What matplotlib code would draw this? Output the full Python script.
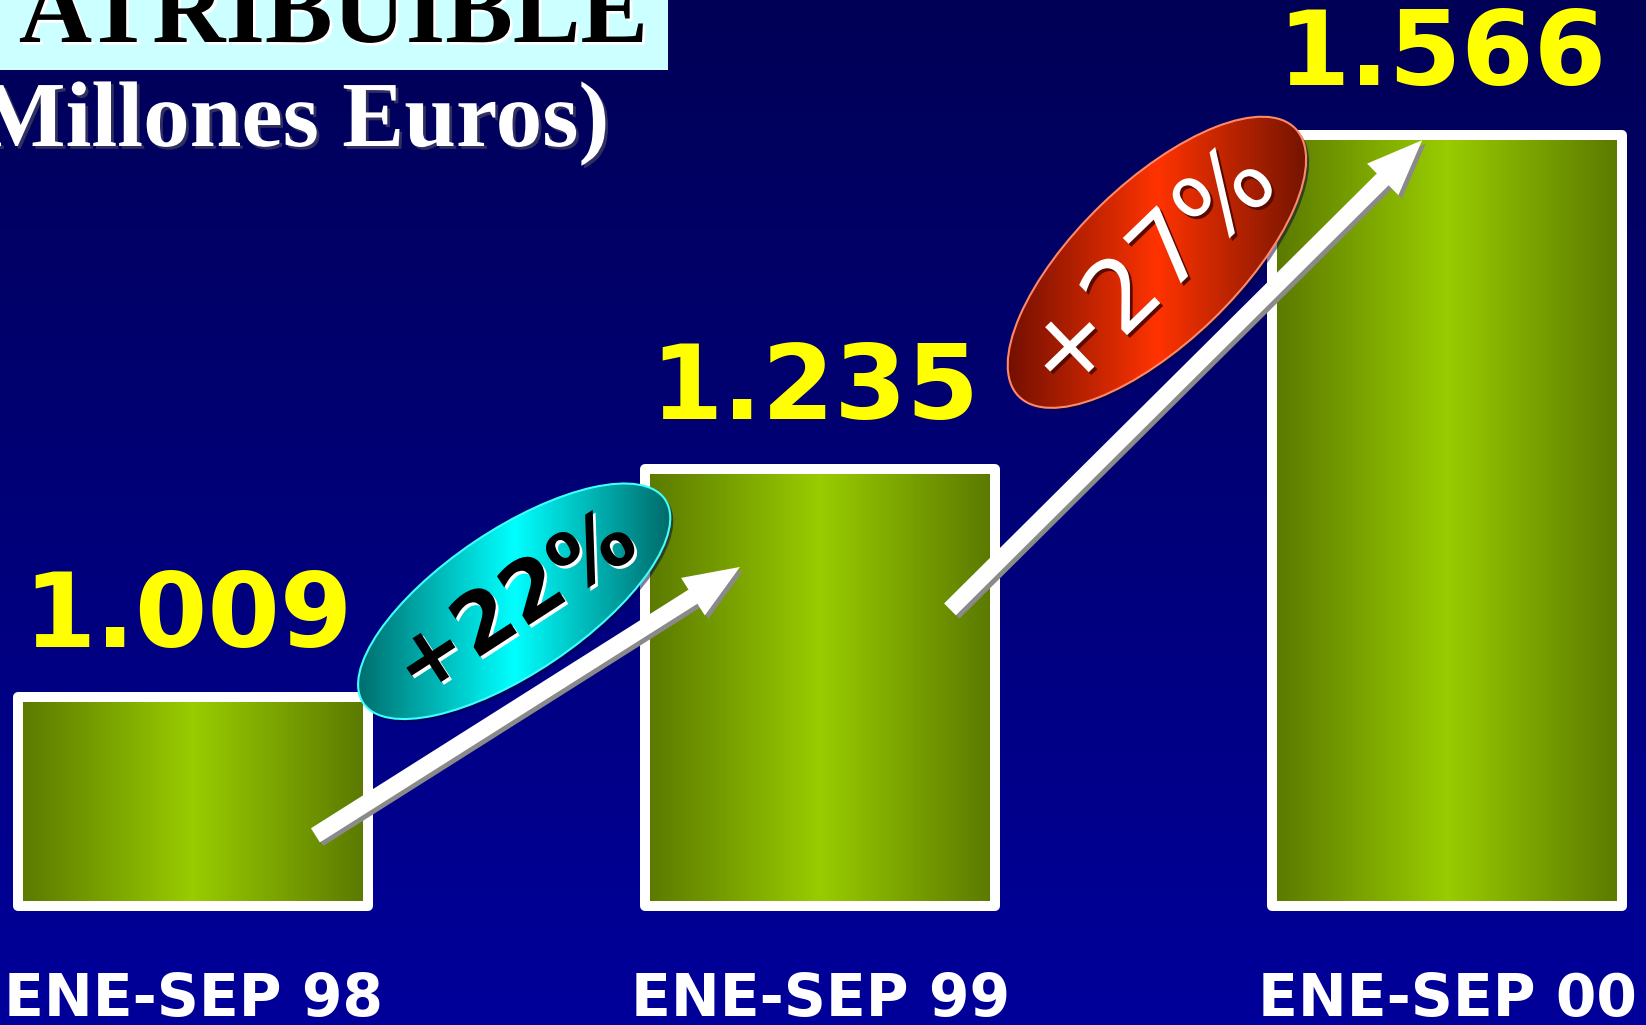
import numpy as np
import matplotlib
matplotlib.use('Agg')
import matplotlib.pyplot as plt
from matplotlib.patches import Ellipse, Rectangle, FancyArrowPatch
from matplotlib.colors import LinearSegmentedColormap
import matplotlib.transforms as mtransforms
import matplotlib.patheffects as pe

# ---------------- data ----------------
categories = ['ENE-SEP 98', 'ENE-SEP 99', 'ENE-SEP 00']
values = [1009, 1235, 1566]
value_labels = ['1.009', '1.235', '1.566']
growth_labels = ['+22%', '+27%']
title_text = 'ATRIBUIBLE'
subtitle_text = '(Millones Euros)'

# ---------------- layout ----------------
BASE = 802
W, H = 1646, 1025
XLIM = (-0.308, 2.317)
YLIM = (684, 1700)

fig = plt.figure(figsize=(W / 100, H / 100), dpi=100)
ax = fig.add_axes([0, 0, 1, 1])
ax.set_axis_off()
ax.set_xlim(XLIM)
ax.set_ylim(YLIM)

# background gradient
bg = LinearSegmentedColormap.from_list('bg', ['#00009a', '#000056'])
ax.imshow(np.linspace(0, 1, 256).reshape(-1, 1), cmap=bg, extent=(*XLIM, *YLIM),
          origin='lower', aspect='auto', zorder=0, interpolation='bilinear')

# bars
x = np.arange(len(values))
bars = ax.bar(x, np.array(values) - BASE, bottom=BASE, width=0.558,
              facecolor='none', edgecolor='white', linewidth=7.2, zorder=3)
bar_cmap = LinearSegmentedColormap.from_list('bar', ['#5a7800', '#99cc00', '#5a7800'])
hgrad = np.linspace(0, 1, 256).reshape(1, -1)
for b in bars:
    b.set_joinstyle('round')
    x0, y0, w, h = b.get_x(), b.get_y(), b.get_width(), b.get_height()
    im = ax.imshow(hgrad, cmap=bar_cmap, extent=(x0, x0 + w, y0, y0 + h),
                   aspect='auto', zorder=2, interpolation='bilinear')
    im.set_clip_path(b)

# value labels
for xi, v, lab in zip(x, values, value_labels):
    ax.annotate(lab, (xi, v), xytext=(-4, 36), textcoords='offset points',
                ha='center', va='baseline', color='#ffff00', fontsize=75,
                fontweight='bold', family='DejaVu Sans', zorder=6)

# category labels
btrans = mtransforms.blended_transform_factory(ax.transData, ax.transAxes)
for xi, c in zip(x, categories):
    ax.text(xi, 0.009, c, transform=btrans, ha='center', va='baseline',
            color='white', fontsize=42, fontweight='bold', family='DejaVu Sans')

# growth arrows (annotation positions)
arrows = [((0.195, 872), (0.872, 1138)), ((1.207, 1096), (1.960, 1561))]
for a, b in arrows:
    p = FancyArrowPatch(a, b, arrowstyle='simple,head_width=32,head_length=40,tail_width=12',
                        mutation_scale=1, shrinkA=0, shrinkB=0, facecolor='white',
                        edgecolor='none', zorder=4,
                        path_effects=[pe.SimplePatchShadow(offset=(2.5, -2.5), shadow_rgbFace='#8a8a8a', alpha=1),
                                      pe.Normal()])
    ax.add_patch(p)

# growth ellipses
ell_specs = [
    dict(center=(0.512, 1104), w=364, h=143, angle=34,
         colors=['#006e6e', '#00ffff', '#006a6a'], edge='#40ffff',
         tcolor='black', shadow='white', fs=60, weight='bold', rot=33, tpos=(0.515, 1100)),
    dict(center=(1.537, 1440), w=385, h=160, angle=44,
         colors=['#741000', '#ff3300', '#741400'], edge='#ff8866',
         tcolor='white', shadow='#5a0a00', fs=72, weight='normal', rot=44, tpos=(1.530, 1430)),
]
inv = ax.transData.inverted()
for spec, g in zip(ell_specs, growth_labels):
    cx, cy = ax.transData.transform(spec['center'])
    e = Ellipse((cx, cy), spec['w'], spec['h'], angle=spec['angle'],
                transform=mtransforms.IdentityTransform(), facecolor='none',
                edgecolor=spec['edge'], linewidth=1.5, zorder=5.1)
    ax.add_patch(e)
    sh = Ellipse((cx + 3, cy - 3), spec['w'], spec['h'], angle=spec['angle'],
                 transform=mtransforms.IdentityTransform(), facecolor='#000040',
                 edgecolor='none', alpha=0.5, zorder=4.9)
    ax.add_patch(sh)
    a = np.deg2rad(spec['angle'])
    ra, rb = spec['w'] / 2, spec['h'] / 2
    hw = np.sqrt((ra * np.cos(a)) ** 2 + (rb * np.sin(a)) ** 2)
    hh = np.sqrt((ra * np.sin(a)) ** 2 + (rb * np.cos(a)) ** 2)
    (dx0, dy0) = inv.transform((cx - hw, cy - hh))
    (dx1, dy1) = inv.transform((cx + hw, cy + hh))
    cm = LinearSegmentedColormap.from_list('e', spec['colors'])
    im = ax.imshow(hgrad, cmap=cm, extent=(dx0, dx1, dy0, dy1), aspect='auto',
                   zorder=5, interpolation='bilinear')
    im.set_clip_path(e)
    ax.text(spec['tpos'][0], spec['tpos'][1], g, rotation=spec['rot'],
            ha='center', va='center', rotation_mode='anchor', color=spec['tcolor'],
            fontsize=spec['fs'], fontweight=spec['weight'], family='DejaVu Sans',
            zorder=6,
            path_effects=[pe.withSimplePatchShadow(offset=(2, -2), shadow_rgbFace=spec['shadow'], alpha=1)])

ax.set_xlim(XLIM)
ax.set_ylim(YLIM)

# title box and titles
ax.add_patch(Rectangle((0, 1 - 70 / H), 668 / W, 70 / H, transform=ax.transAxes,
                       facecolor='#ccffff', edgecolor='none', zorder=7))
ax.text(648 / W, 1 - 42 / H, title_text, transform=ax.transAxes, ha='right',
        va='baseline', fontsize=73, fontweight='bold', family='Liberation Serif',
        color='black', zorder=8,
        path_effects=[pe.withSimplePatchShadow(offset=(2, -2), shadow_rgbFace='white', alpha=1)])
ax.text(609 / W, 1 - 146 / H, subtitle_text, transform=ax.transAxes, ha='right',
        va='baseline', fontsize=67, fontweight='bold', family='Liberation Serif',
        color='white', zorder=8,
        path_effects=[pe.withSimplePatchShadow(offset=(2, -2), shadow_rgbFace='#303060', alpha=1)])

fig.savefig('out.png', dpi=100)
